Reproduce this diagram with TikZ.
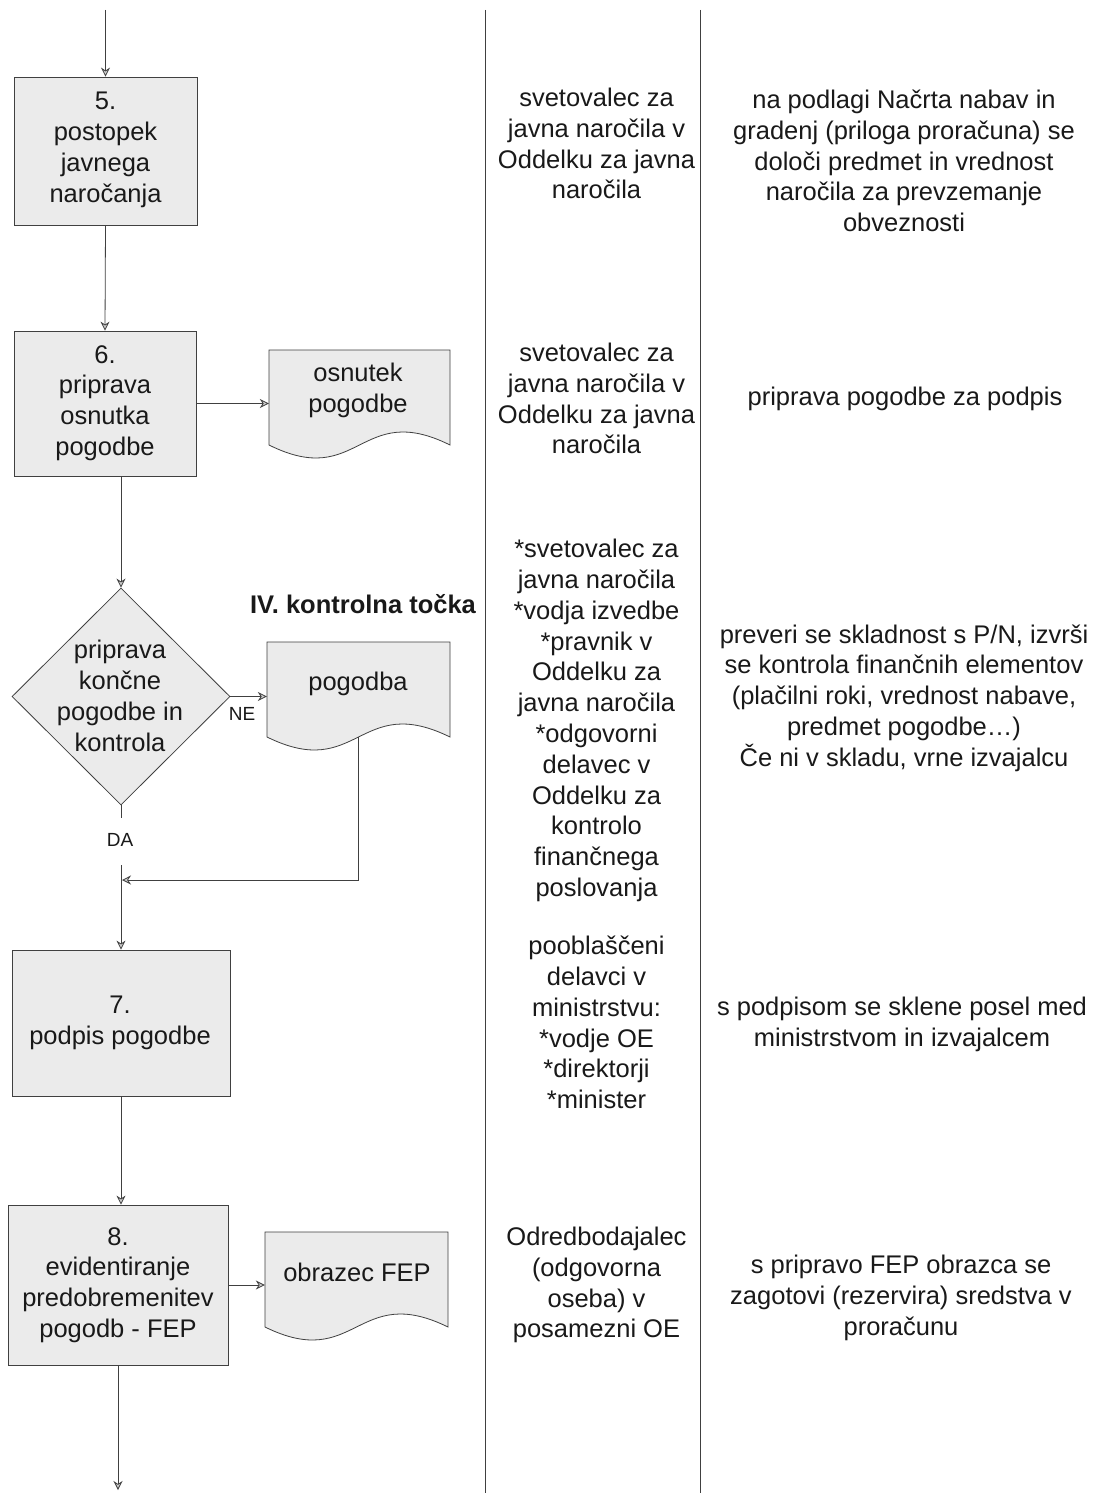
\documentclass[tikz,border=0pt]{standalone}
\usepackage{fontspec}
\setmainfont{Liberation Sans}
\usetikzlibrary{arrows.meta,shapes.geometric}
\newcommand\myfs{\fontsize{25.5}{30.8}\selectfont}
\newcommand\mysmall{\fontsize{19}{22}\selectfont}
\begin{document}
\begin{tikzpicture}[x=1pt,y=-1pt,
  box/.style={draw=black!75, line width=0.8pt, fill=black!8, inner sep=0},
  txt/.style={align=center, font=\myfs, inner sep=0, text=black!90},
  docsty/.style={draw=black!75, line width=0.8pt, fill=black!8},
  arr/.style={draw=black!75, line width=0.8pt, -{Stealth[length=9pt,width=9pt,fill=black!20]}},
  ln/.style={draw=black!75, line width=0.8pt}]
\useasboundingbox (0,0) rectangle (1092,1493);
\fill[white] (0,0) rectangle (1092,1493);

% column separators
\coordinate (c1t) at (485,10); \coordinate (c1b) at (485,1493);
\coordinate (c2t) at (700,10); \coordinate (c2b) at (700,1493);
\draw[ln] (c1t) -- (c1b);
\draw[ln] (c2t) -- (c2b);

% boxes
\node[box, minimum width=183, minimum height=148] (b5) at (105.5,151) {};
\node[txt] (b5t) at (105.5,150) {5.\\postopek\\javnega\\naročanja};
\node[box, minimum width=182, minimum height=145] (b6) at (105,403.5) {};
\node[txt] (b6t) at (105,403) {6.\\priprava\\osnutka\\pogodbe};
\node[diamond, draw=black!75, line width=0.8pt, fill=black!8, inner sep=0, minimum width=218, minimum height=217] (dia) at (121,696.5) {};
\node[txt] (diat) at (120,696) {priprava\\končne\\pogodbe in\\kontrola};
\node[box, minimum width=218, minimum height=146] (b7) at (121,1023) {};
\node[txt] (b7t) at (120,1023) {7.\\podpis pogodbe};
\node[box, minimum width=220, minimum height=160] (b8) at (118,1285) {};
\node[txt] (b8t) at (118,1285) {8.\\evidentiranje\\predobremenitev\\pogodb - FEP};

% documents
\path[docsty] (269,350) -- (450,350) -- (450,445) .. controls (359.5,400) and (359.5,490) .. (269,445) -- cycle;
\node[inner sep=0, minimum width=181, minimum height=95] (d1) at (359.5,397.5) {};
\node[txt] (d1t) at (358,390.5) {osnutek\\pogodbe};

\path[docsty] (267,642) -- (450,642) -- (450,737) .. controls (358.5,692) and (358.5,782) .. (267,737) -- cycle;
\node[inner sep=0, minimum width=183, minimum height=95] (d2) at (358.5,689.5) {};
\node[txt] (d2t) at (358,684) {pogodba};

\path[docsty] (265,1232) -- (448,1232) -- (448,1327) .. controls (356.5,1282) and (356.5,1372) .. (265,1327) -- cycle;
\node[inner sep=0, minimum width=183, minimum height=95] (d3) at (356.5,1279.5) {};
\node[txt] (d3t) at (357,1272) {obrazec FEP};

% labels
\node[txt, font=\myfs\bfseries] (kt) at (363,604) {IV. kontrolna točka};
\node[txt, font=\mysmall] (lne) at (242,714) {NE};
\node[txt, font=\mysmall] (lda) at (120,840) {DA};

% connectors
\coordinate (top) at (105.5,10);
\coordinate (bot) at (118,1490);
\coordinate (da1) at (121,818);
\coordinate (da2) at (121,865);
\coordinate (fb) at (122,880);
\draw[arr] (top) -- (b5.north);
\draw[arr] (b5.south) -- (b6.north);
\draw[arr] (b6.east) -- (b6.east -| d1.west);
\draw[arr] (b6.south -| dia.north) -- (dia.north);
\draw[arr] (dia.east) -- (dia.east -| d2.west);
\draw[ln] (dia.south) -- (da1);
\draw[arr] (da2) -- (b7.north);
\draw[arr] (d2.south) |- (fb);
\draw[arr] (b7.south) -- (b7.south |- b8.north);
\draw[arr] (b8.east) -- (b8.east -| d3.west);
\draw[arr] (b8.south) -- (bot);

% middle column
\node[txt] (m1) at (596.5,143.5) {svetovalec za\\javna naročila v\\Oddelku za javna\\naročila};
\node[txt] (m2) at (596.5,398.5) {svetovalec za\\javna naročila v\\Oddelku za javna\\naročila};
\node[txt] (m3) at (596.5,720.5) {*svetovalec za\\javna naročila\\*vodja izvedbe\\*pravnik v\\Oddelku za\\javna naročila\\*odgovorni\\delavec v\\Oddelku za\\kontrolo\\finančnega\\poslovanja};
\node[txt] (m4) at (596.5,1022.5) {pooblaščeni\\delavci v\\ministrstvu:\\*vodje OE\\*direktorji\\*minister};
\node[txt] (m5) at (596.5,1285) {Odredbodajalec\\(odgovorna\\oseba) v\\posamezni OE};

% right column
\node[txt] (r1) at (904,161) {na podlagi Načrta nabav in\\gradenj (priloga proračuna) se\\določi predmet in vrednost\\naročila za prevzemanje\\obveznosti};
\node[txt] (r2) at (905,399) {priprava pogodbe za podpis};
\node[txt] (r3) at (904,698) {preveri se skladnost s P/N, izvrši\\se kontrola finančnih elementov\\(plačilni roki, vrednost nabave,\\predmet pogodbe…)\\Če ni v skladu, vrne izvajalcu};
\node[txt] (r4) at (902,1024.5) {s podpisom se sklene posel med\\ministrstvom in izvajalcem};
\node[txt] (r5) at (901,1298) {s pripravo FEP obrazca se\\zagotovi (rezervira) sredstva v\\proračunu};
\end{tikzpicture}
\end{document}
